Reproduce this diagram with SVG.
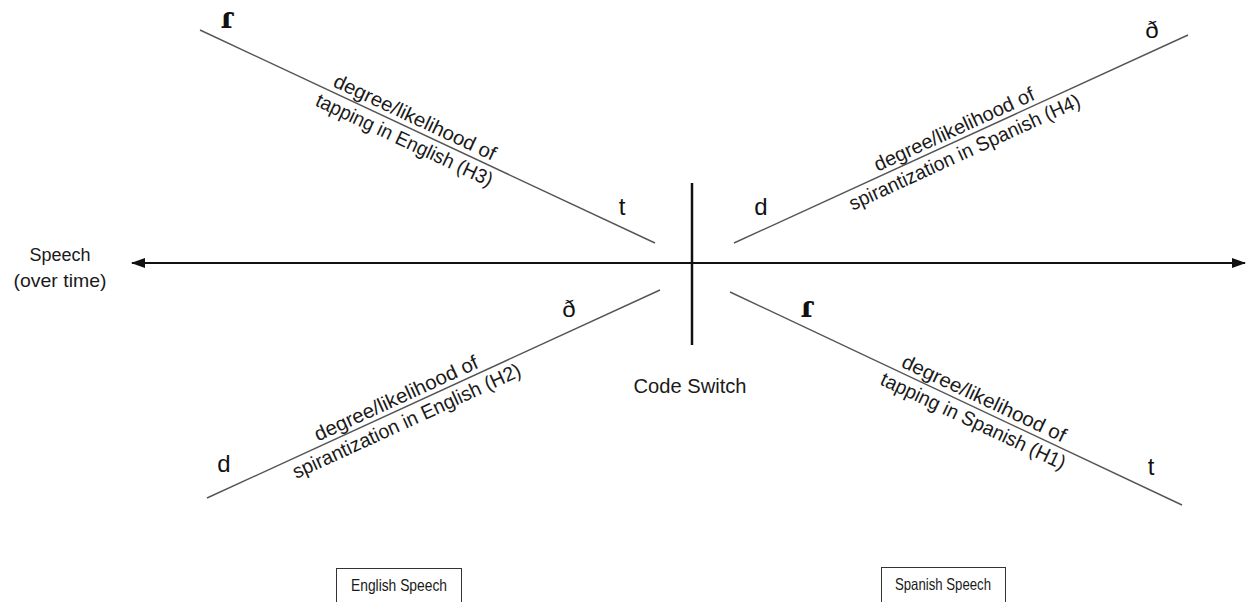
<svg xmlns="http://www.w3.org/2000/svg" width="1246" height="602" viewBox="0 0 1246 602">
<style>
.t{font-family:"Liberation Sans",Arial,sans-serif;fill:#1a1a1a}
.lab{font-size:20px;text-anchor:middle}
.ph{font-family:"Liberation Sans",Arial,sans-serif;font-size:24px;fill:#111;text-anchor:middle}
.tap{font-family:"DejaVu Serif","Liberation Serif",serif;font-size:29px;font-weight:bold;fill:#111;text-anchor:middle}
.diag{stroke:#555;stroke-width:1.4;fill:none}
.box{fill:#fff;stroke:#333;stroke-width:1}
.boxlab{font-size:16.5px;text-anchor:middle}
</style>
<defs>
<marker id="ah" viewBox="0 0 14 10" refX="13" refY="5" markerWidth="14" markerHeight="10" markerUnits="userSpaceOnUse" orient="auto-start-reverse">
<path d="M0,0 L14,5 L0,10 z" fill="#111"/>
</marker>
</defs>
<rect width="1246" height="602" fill="#fff"/>
<g id="connectors">
<line x1="132" y1="263" x2="1245" y2="263" stroke="#111" stroke-width="2" marker-start="url(#ah)" marker-end="url(#ah)"/>
<line x1="692" y1="183" x2="692" y2="345" stroke="#111" stroke-width="2.5"/>
<line class="diag" x1="200" y1="30" x2="655" y2="243"/>
<line class="diag" x1="734" y1="243" x2="1188" y2="35"/>
<line class="diag" x1="207" y1="498" x2="660" y2="290"/>
<line class="diag" x1="730" y1="292" x2="1182" y2="505"/>
</g>
<g id="axis-label">
<text class="t" x="60" y="261" font-size="18" text-anchor="middle" textLength="61" lengthAdjust="spacingAndGlyphs">Speech</text>
<text class="t" x="60" y="287" font-size="19" text-anchor="middle" textLength="93" lengthAdjust="spacingAndGlyphs">(over time)</text>
</g>
<g id="code-switch">
<text class="t" x="690" y="393" font-size="20" text-anchor="middle" textLength="113" lengthAdjust="spacingAndGlyphs">Code Switch</text>
</g>
<g id="h3">
<text class="tap" x="227" y="28">ɾ</text>
<text class="ph" x="622" y="215">t</text>
<g transform="translate(410,128) rotate(25.1)">
<text class="t lab" x="0" y="-5" textLength="177" lengthAdjust="spacingAndGlyphs">degree/likelihood of</text>
<text class="t lab" x="0" y="20" textLength="193" lengthAdjust="spacingAndGlyphs">tapping in English (H3)</text>
</g>
</g>
<g id="h4">
<text class="ph" x="761" y="215">d</text>
<text class="ph" x="1152" y="38">ð</text>
<g transform="translate(959,140) rotate(-24.6)">
<text class="t lab" x="0" y="-5" textLength="174" lengthAdjust="spacingAndGlyphs">degree/likelihood of</text>
<text class="t lab" x="0" y="20" textLength="252" lengthAdjust="spacingAndGlyphs">spirantization in Spanish (H4)</text>
</g>
</g>
<g id="h2">
<text class="ph" x="224" y="472">d</text>
<text class="ph" x="569" y="317">ð</text>
<g transform="translate(401,409) rotate(-24.66)">
<text class="t lab" x="0" y="-5" textLength="178" lengthAdjust="spacingAndGlyphs">degree/likelihood of</text>
<text class="t lab" x="0" y="20" textLength="249" lengthAdjust="spacingAndGlyphs">spirantization in English (H2)</text>
</g>
</g>
<g id="h1">
<text class="tap" x="807" y="317">ɾ</text>
<text class="ph" x="1151" y="475">t</text>
<g transform="translate(979,409) rotate(25.2)">
<text class="t lab" x="0" y="-5" textLength="179" lengthAdjust="spacingAndGlyphs">degree/likelihood of</text>
<text class="t lab" x="0" y="20" textLength="202" lengthAdjust="spacingAndGlyphs">tapping in Spanish (H1)</text>
</g>
</g>
<g id="english-speech">
<rect class="box" x="336.5" y="568.5" width="125" height="50"/>
<text class="t boxlab" x="399" y="591" textLength="96" lengthAdjust="spacingAndGlyphs">English Speech</text>
</g>
<g id="spanish-speech">
<rect class="box" x="881.5" y="567.5" width="124" height="50"/>
<text class="t boxlab" x="943" y="590" textLength="96" lengthAdjust="spacingAndGlyphs">Spanish Speech</text>
</g>
</svg>
